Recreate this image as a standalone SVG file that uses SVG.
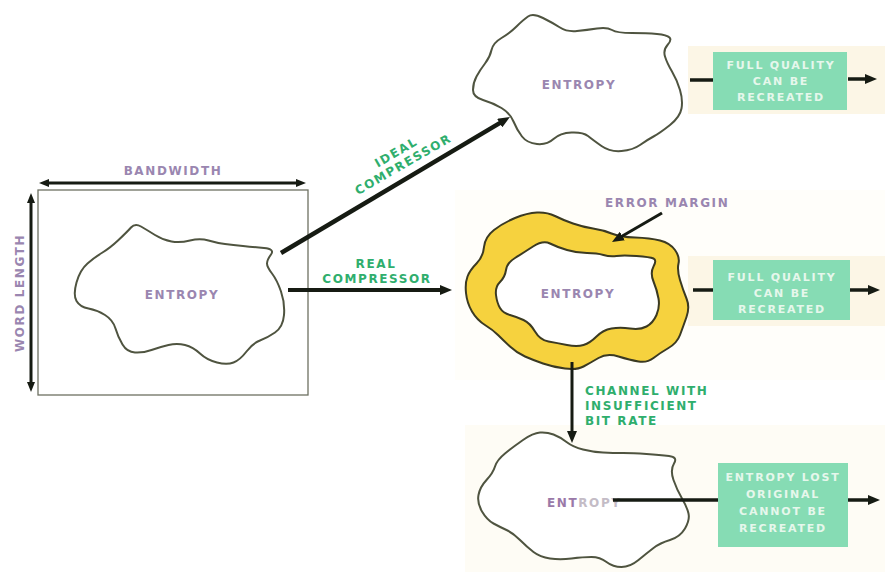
<svg xmlns="http://www.w3.org/2000/svg" width="885" height="572" viewBox="0 0 885 572">
<style>
.lbl{font-family:"DejaVu Sans","Liberation Sans",sans-serif;font-weight:bold;font-size:12px;letter-spacing:1.6px}
.pur{fill:#9a86b0}
.grn{fill:#2fae6d}
.box{fill:#86dcb4}
.btx{font-family:"DejaVu Sans","Liberation Sans",sans-serif;font-weight:bold;font-size:11px;letter-spacing:1.8px;fill:#e6f7ec;text-anchor:middle}
.blob{fill:#ffffff;stroke:#4f5440;stroke-width:2;stroke-linejoin:round}
.arr{stroke:#161b13;fill:none;stroke-linecap:butt}
</style>
<defs>
<marker id="ah" viewBox="0 0 12 10" refX="1" refY="5" markerWidth="12" markerHeight="10" markerUnits="userSpaceOnUse" orient="auto">
<path d="M0,0 L12,5 L0,10 z" fill="#161b13"/>
</marker>
<marker id="ah2" viewBox="0 0 10 8" refX="1" refY="4" markerWidth="10" markerHeight="8" markerUnits="userSpaceOnUse" orient="auto-start-reverse">
<path d="M0,0 L10,4 L0,8 z" fill="#161b13"/>
</marker>
</defs>
<rect width="885" height="572" fill="#ffffff"/>
<rect x="688" y="46" width="197" height="68" fill="#fcf6e6"/>
<rect x="455" y="190" width="430" height="190" fill="#fffefa"/>
<rect x="688" y="256" width="197" height="70" fill="#fcf6e6"/>
<rect x="465" y="425" width="420" height="147" fill="#fefcf5"/>

<g id="source">
<rect x="38" y="190" width="270" height="205" fill="#ffffff" stroke="#6d7062" stroke-width="1.3"/>
<path class="blob" d="M76.5,301 Q73,295 76.5,282.5 Q80,270 87.5,263.5 Q95,257 102.5,252.5 Q110,248 118.5,240 Q127,232 131,227.5 Q135,223 141,226.5 Q147,230 155,235 Q163,240 171.5,241.5 Q180,243 190,240.5 Q200,238 208.5,240.5 Q217,243 225,244 Q233,245 243,246 Q253,247 264,248 Q275,249 271,254.5 Q267,260 267,263.5 Q267,267 272,273.5 Q277,280 281,291.5 Q285,303 284,315 Q283,327 275,332.5 Q267,338 260,340.5 Q253,343 246.5,351.5 Q240,360 233.5,362.5 Q227,365 217,362.5 Q207,360 200,353.5 Q193,347 185,345 Q177,343 168.5,345 Q160,347 151.5,350 Q143,353 135,352.5 Q127,352 122.5,344.5 Q118,337 115.5,328.5 Q113,320 105,315 Q97,310 88.5,308.5 Q80,307 76.5,301 Z"/>
<text class="lbl pur" x="182" y="299" text-anchor="middle">ENTROPY</text>
<line class="arr" x1="48" y1="183" x2="297" y2="183" stroke-width="3" marker-start="url(#ah2)" marker-end="url(#ah2)"/>
<text class="lbl pur" x="173" y="175" text-anchor="middle">BANDWIDTH</text>
<line class="arr" x1="31" y1="202" x2="31" y2="383" stroke-width="3" marker-start="url(#ah2)" marker-end="url(#ah2)"/>
<text class="lbl pur" transform="translate(23.5,293) rotate(-90)" text-anchor="middle">WORD LENGTH</text>
</g>

<g id="ideal">
<path class="blob" d="M476.5,76.5 Q473,83 473,90 Q473,97 483,100 Q493,103 501.5,108 Q510,113 513.5,121.5 Q517,130 522,136.5 Q527,143 537,144 Q547,145 553.5,139 Q560,133 571.5,132.5 Q583,132 588,136 Q593,140 601.5,146 Q610,152 621.5,151 Q633,150 640,145 Q647,140 653.5,136.5 Q660,133 670,125 Q680,117 681.5,108.5 Q683,100 680,90 Q677,80 672,71.5 Q667,63 665,56.5 Q663,50 667.5,45 Q672,40 669.5,37.5 Q667,35 657,34 Q647,33 632,33 Q617,33 612,30 Q607,27 597,28.5 Q587,30 577,31 Q567,32 560,27.5 Q553,23 543,18 Q533,13 528,16.5 Q523,20 516.5,26.5 Q510,33 501.5,38 Q493,43 491.5,50 Q490,57 485,63.5 Q480,70 476.5,76.5 Z"/>
<text class="lbl pur" x="579" y="89" text-anchor="middle">ENTROPY</text>
</g>

<g id="box1">
<rect class="box" x="713" y="52" width="134" height="58"/>
<text class="btx" x="781" y="69">FULL QUALITY</text>
<text class="btx" x="781" y="85">CAN BE</text>
<text class="btx" x="781" y="101">RECREATED</text>
</g>

<g id="real">
<path d="M466,293 Q465,283 467.5,276.5 Q470,270 476.5,263.5 Q483,257 484,247 Q485,237 494,230 Q503,223 515,218 Q527,213 537,212.5 Q547,212 555,216 Q563,220 573,223.5 Q583,227 593,228.5 Q603,230 611.5,233.5 Q620,237 635,237.5 Q650,238 660,240.5 Q670,243 675,250 Q680,257 678.5,263.5 Q677,270 680,280 Q683,290 686.5,298.5 Q690,307 686.5,317 Q683,327 680,335 Q677,343 668.5,348 Q660,353 653.5,358 Q647,363 638.5,361.5 Q630,360 618.5,356.5 Q607,353 598.5,358 Q590,363 583.5,366.5 Q577,370 565,368.5 Q553,367 543,363.5 Q533,360 525,356.5 Q517,353 510,346.5 Q503,340 498,335 Q493,330 485,325 Q477,320 472,311.5 Q467,303 466,293 Z" fill="#f6d23e" stroke="#3b3a22" stroke-width="2" stroke-linejoin="round"/>
<path d="M496,295 Q495,287 500,282 Q505,277 506,270 Q507,263 515,258 Q523,253 533,246.5 Q543,240 550,243.5 Q557,247 567,250 Q577,253 587,253 Q597,253 603.5,255 Q610,257 616.5,256 Q623,255 636.5,256 Q650,257 653.5,258.5 Q657,260 653.5,266.5 Q650,273 653.5,281.5 Q657,290 658.5,298.5 Q660,307 656.5,315 Q653,323 646.5,326.5 Q640,330 630,328.5 Q620,327 611.5,328.5 Q603,330 596.5,336.5 Q590,343 583.5,345 Q577,347 567,345 Q557,343 548.5,341.5 Q540,340 535,331.5 Q530,323 523.5,320 Q517,317 510,315 Q503,313 500,308 Q497,303 496,295 Z" fill="#ffffff" stroke="#3b3a22" stroke-width="2" stroke-linejoin="round"/>
<text class="lbl pur" x="578" y="298" text-anchor="middle">ENTROPY</text>
<text class="lbl pur" x="605" y="207">ERROR MARGIN</text>
</g>

<g id="box2">
<rect class="box" x="713" y="260" width="137" height="60"/>
<text class="btx" x="782" y="281">FULL QUALITY</text>
<text class="btx" x="782" y="297">CAN BE</text>
<text class="btx" x="782" y="313">RECREATED</text>
</g>

<g id="lost">
<path class="blob" d="M482,511.5 Q477,503 478.5,495 Q480,487 486.5,480 Q493,473 495,466.5 Q497,460 505,453.5 Q513,447 523,440 Q533,433 540,432.5 Q547,432 553.5,434.5 Q560,437 566.5,442 Q573,447 583,449.5 Q593,452 603,452.5 Q613,453 623,453 Q633,453 646.5,454 Q660,455 669,456 Q678,457 674,463.5 Q670,470 673.5,480 Q677,490 682,498.5 Q687,507 688.5,513.5 Q690,520 685,528.5 Q680,537 670,540 Q660,543 653.5,548 Q647,553 638.5,560 Q630,567 621.5,567 Q613,567 606.5,562 Q600,557 591.5,557 Q583,557 571.5,558.5 Q560,560 550,558.5 Q540,557 533.5,552 Q527,547 520,540 Q513,533 506.5,530 Q500,527 493.5,523.5 Q487,520 482,511.5 Z" fill="#fffffb"/>
<text class="lbl" x="547" y="507"><tspan fill="#9a79a8">ENT</tspan><tspan fill="#c4bcc6">ROPY</tspan></text>
</g>

<g id="box3">
<rect class="box" x="718" y="463" width="130" height="84"/>
<text class="btx" x="783" y="481">ENTROPY LOST</text>
<text class="btx" x="783" y="498">ORIGINAL</text>
<text class="btx" x="783" y="515">CANNOT BE</text>
<text class="btx" x="783" y="532">RECREATED</text>
</g>

<g id="connectors">
<line class="arr" x1="281" y1="253" x2="500.5" y2="122.6" stroke-width="4.5" marker-end="url(#ah)"/>
<line class="arr" x1="288" y1="290" x2="441" y2="290" stroke-width="4" marker-end="url(#ah)"/>
<line class="arr" x1="662" y1="213" x2="621.5" y2="236.5" stroke-width="3" marker-end="url(#ah)"/>
<line class="arr" x1="572" y1="362" x2="572" y2="432" stroke-width="3" marker-end="url(#ah)"/>
<line class="arr" x1="690" y1="80" x2="713" y2="80" stroke-width="3.5"/>
<line class="arr" x1="848" y1="79" x2="866" y2="79" stroke-width="3.5" marker-end="url(#ah)"/>
<line class="arr" x1="693" y1="290" x2="713" y2="290" stroke-width="3.5"/>
<line class="arr" x1="850" y1="290" x2="869" y2="290" stroke-width="3.5" marker-end="url(#ah)"/>
<line class="arr" x1="613" y1="500" x2="718" y2="500" stroke-width="3.5"/>
<line class="arr" x1="848" y1="500" x2="869" y2="500" stroke-width="3.5" marker-end="url(#ah)"/>
</g>
<g id="labels">
<text class="lbl grn" transform="translate(403,164) rotate(-30)" text-anchor="middle" y="-9.5">IDEAL</text>
<text class="lbl grn" transform="translate(403,164) rotate(-30)" text-anchor="middle" y="4.5">COMPRESSOR</text>
<text class="lbl grn" x="376" y="268" text-anchor="middle">REAL</text>
<text class="lbl grn" x="377" y="283" text-anchor="middle">COMPRESSOR</text>
<text class="lbl grn" x="585" y="395">CHANNEL WITH</text>
<text class="lbl grn" x="585" y="410">INSUFFICIENT</text>
<text class="lbl grn" x="585" y="425">BIT RATE</text>
</g>
</svg>
